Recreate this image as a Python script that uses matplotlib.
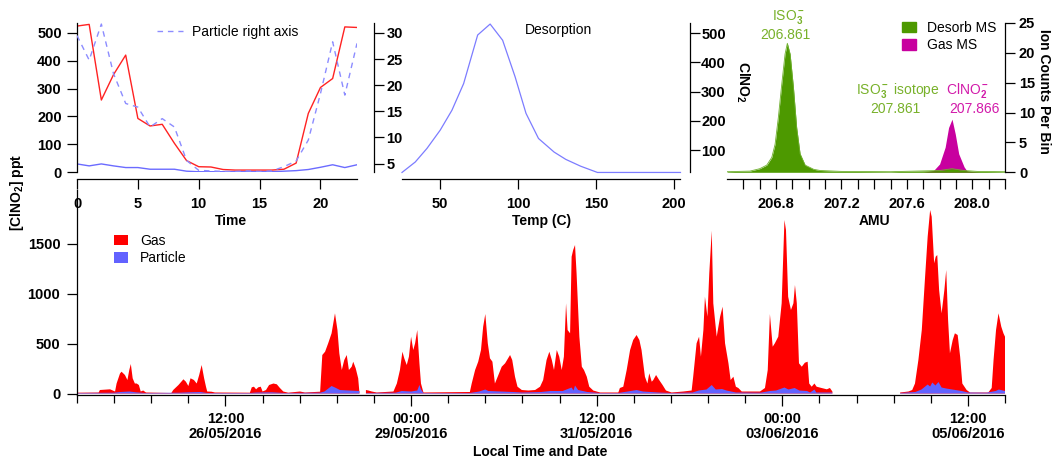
import numpy as np
import pandas as pd
import matplotlib
matplotlib.use("Agg")
import matplotlib.pyplot as plt
from matplotlib.patches import Patch
from matplotlib.lines import Line2D
from matplotlib.ticker import FormatStrFormatter
import matplotlib.dates as mdates

plt.rcParams['font.family'] = ['Liberation Sans', 'DejaVu Sans']
plt.rcParams['font.weight'] = 'bold'
plt.rcParams['font.size'] = 10.5
plt.rcParams['mathtext.fontset'] = 'custom'
plt.rcParams['mathtext.rm'] = 'Liberation Sans'
plt.rcParams['mathtext.it'] = 'Liberation Sans:italic'
plt.rcParams['mathtext.bf'] = 'Liberation Sans:bold'
plt.rcParams['axes.linewidth'] = 0.9

# ---- diurnal profile (top left)
hours = list(range(24))
gas_diurnal = [524, 530, 259, 350, 420, 193, 166, 172, 104, 42, 20, 19, 10, 8,
               8, 8, 8, 11, 33, 211, 304, 336, 521, 519]
part_diurnal = [30, 23, 30, 23, 17, 17, 11, 11, 11, 4, 2, 2, 2, 2, 2, 2, 2, 4,
                6, 10, 18, 27, 17, 27]
part_right = [29.5, 24.8, 31.7, 22.2, 16.5, 15.8, 12.0, 13.6, 12.0, 5.6, 3.7,
              3.6, 3.5, 3.5, 3.6, 3.5, 3.6, 4.4, 5.5, 9.5, 18.4, 28.3, 18.1, 28.0]

# ---- desorption (top middle)
temp_c = [25.5, 34, 41.5, 50, 57.5, 65, 74, 82, 90, 98, 105, 113, 123, 130.5,
          140, 150.8, 204]
desorb = [3.3, 5.3, 7.9, 11.4, 15.2, 20.3, 29.6, 31.7, 28.6, 21.6, 14.6, 9.8,
          7.2, 5.8, 4.5, 3.3, 3.3]

# ---- mass spectra (top right)
desorb_amu = [206.50, 206.64, 206.70, 206.743, 206.774, 206.794, 206.814,
              206.835, 206.855, 206.869, 206.886, 206.906, 206.926, 206.947,
              206.978, 207.03, 207.07, 207.2, 207.5, 207.8, 207.876, 207.95,
              208.03, 208.2]
desorb_cnt = [0.1, 0.2, 0.6, 1.2, 2.5, 4.7, 9.2, 14.8, 19.8, 21.6, 19.8, 14.3,
              7.5, 3.1, 1.2, 0.5, 0.3, 0.15, 0.1, 0.3, 0.6, 0.3, 0.15, 0.1]
gasms_amu = [206.5, 207.70, 207.763, 207.80, 207.834, 207.855, 207.876,
             207.896, 207.917, 207.95, 207.968, 208.05, 208.2]
gasms_cnt = [0, 0, 0.3, 1.4, 4.2, 7.5, 8.9, 6.4, 3.1, 0.9, 0.2, 0, 0]

# ---- time series (bottom), hours after 24/05/2016 12:00
t0 = pd.Timestamp('2016-05-24 12:00')
gas_hours = [0.0, 7.0, 7.4, 10.7, 12.3, 12.8, 13.9, 14.4, 15.5, 16.3, 16.9, 17.4,
             18.0, 18.7, 19.3, 20.0, 20.6, 21.4, 22.3, 30.5, 31.1, 32.8, 34.4,
             35.2, 36.0, 36.7, 37.8, 38.7, 39.5, 40.3, 41.1, 41.7, 42.1, 43.5,
             44.6, 55.9, 56.5, 57.2, 57.9, 58.6, 59.4, 60.0, 61.1, 62.1, 63.5,
             64.6, 65.6, 66.7, 68.3, 72.1, 73.7, 78.6, 79.3, 80.2, 81.2, 82.3,
             83.4, 84.2, 84.8, 85.6, 86.4, 87.2, 87.9, 88.8, 89.3, 90.1, 90.9,
             91.3, 92.3, 93.4, 94.2, 95.3, 96.9, 102.3, 103.4, 104.4, 105.2,
             105.8, 106.6, 107.3, 108.0, 108.7, 109.3, 110.0, 110.7, 111.2,
             112.0, 127.0, 127.6, 128.7, 129.7, 130.6, 131.3, 132.0, 132.8,
             133.5, 134.3, 135.1, 136.0, 137.3, 138.4, 140.0, 140.7, 141.6,
             142.4, 143.8, 145.9, 148.1, 149.7, 150.7, 151.8, 152.7, 153.5,
             154.2, 155.1, 155.9, 156.7, 157.4, 158.1, 158.6, 159.4, 159.9,
             160.4, 161.0, 161.5, 162.4, 163.2, 163.9, 164.8, 165.6, 166.9,
             169.1, 175.0, 175.5, 176.6, 177.7, 178.8, 179.8, 180.9, 181.8,
             182.5, 183.6, 184.4, 185.0, 185.8, 186.3, 187.2, 188.2, 189.3,
             190.4, 192.2, 196.0, 198.7, 199.2, 200.3, 201.1, 201.7, 202.5,
             203.0, 203.8, 204.4, 205.2, 205.7, 206.8, 207.9, 208.7, 209.5,
             210.6, 211.3, 212.2, 213.0, 213.8, 214.9, 220.8, 222.4, 223.3,
             224.0, 224.9, 225.6, 226.7, 227.8, 228.7, 229.2, 229.9, 230.8,
             231.6, 232.1, 232.7, 233.4, 234.3, 235.3, 236.2, 236.7, 237.5,
             238.4, 239.1, 240.7, 242.4, 243.4, 244.2, 255.0, 266.1, 268.8,
             270.0, 270.9, 272.0, 273.1, 274.1, 275.0, 275.8, 276.3, 277.1,
             277.6, 278.1, 278.7, 279.5, 280.4, 281.0, 281.6, 282.2, 283.1,
             283.8, 284.7, 285.5, 286.2, 287.6, 288.7, 294.6, 295.7, 296.3,
             297.1, 297.9, 298.8, 299.5, 300.0]
gas_ppt = [8, 10, 35, 42, 20, 100, 200, 218, 185, 135, 235, 295, 152, 100, 100,
           85, 20, 30, 10, 5, 35, 85, 142, 118, 75, 152, 135, 100, 185, 285, 152,
           68, 20, 18, 10, 8, 62, 68, 42, 62, 68, 20, 35, 85, 100, 92, 55, 20, 8,
           20, 10, 18, 385, 418, 502, 602, 802, 635, 402, 235, 335, 385, 235,
           268, 318, 252, 152, 10, np.nan, 35, 30, 20, 10, 20, 100, 235, 418,
           352, 285, 368, 568, 435, 502, 635, 302, 100, 10, 15, 100, 235, 318,
           435, 668, 795, 502, 352, 318, 100, 168, 268, 302, 385, 335, 168, 68,
           35, 30, 35, 68, 135, 335, 418, 335, 235, 435, 368, 235, 368, 902,
           635, 602, 1368, 1435, 1485, 1202, 568, 268, 235, 168, 68, 30, 10, 10,
           55, 68, 235, 435, 535, 585, 535, 435, 168, 100, 202, 118, 135, 185,
           135, 85, 30, 10, 20, 30, 168, 502, 568, 368, 635, 968, 768, 1202,
           1628, 902, 568, 768, 868, 502, 302, 135, 168, 68, 55, 20, 20, 55,
           235, 795, 468, 502, 568, 902, 1735, 1635, 968, 835, 902, 1085, 902,
           302, 268, 308, 318, 100, 68, 100, 68, 55, 42, 55, 20, np.nan, 10, 20,
           35, 100, 335, 635, 1135, 1568, 1835, 1768, 1302, 1368, 1385, 1035,
           802, 1035, 1235, 735, 402, 535, 602, 585, 368, 100, 35, 10, 10, 55,
           335, 635, 802, 668, 602, 568]
part_hours = [0, 12, 14, 17, 19, 22, 33, 36, 40, 42, 56, 58, 63, 67, 78.6, 80,
              82.3, 83.4, 85, 88, 91.3, 92.3, 93.4, 103, 105, 108, 110, 110.7,
              111.2, 112, 127, 130, 132, 133, 137, 141, 144, 150, 153, 157,
              159.9, 160.5, 161.0, 162, 165, 169, 175, 178, 180.9, 183, 188, 192,
              199, 201, 203.5, 205.2, 206.5, 208.5, 210, 213, 221, 224, 226,
              228.7, 230, 232, 233.5, 236, 237, 238.4, 239, 244.2, 255, 266.1,
              271, 273, 275, 275.8, 276.5, 277.5, 278.5, 279.5, 281, 283, 286,
              288, 294, 297, 298, 300]
part_ppt = [5, 8, 15, 20, 12, 5, 8, 12, 15, 5, 5, 10, 12, 5, 8, 20, 75, 60, 35,
            30, 25, np.nan, 5, 8, 25, 20, 30, 85, 40, 5, 5, 20, 40, 25, 20, 15,
            10, 15, 25, 25, 60, 30, 80, 35, 15, 5, 5, 20, 35, 20, 10, 5, 10, 30,
            40, 85, 40, 45, 30, 10, 8, 25, 30, 60, 40, 55, 30, 25, 10, 40, 10,
            10, np.nan, 5, 15, 40, 90, 70, 110, 80, 115, 60, 50, 40, 25, 10, 8,
            25, 40, 25]

W, H = 1055, 462
RED = '#ff0000'
BLUE = '#6262ff'
GREEN = '#4d9900'
MAGENTA = '#c8009f'


def box(x0, y0, x1, y1):
    return [x0 / W, 1 - y1 / H, (x1 - x0) / W, (y1 - y0) / H]


def ticks_out(ax, xpad=2, ypad=2):
    ax.tick_params(which='both', direction='out', length=7, width=0.9,
                   labelsize=10.5)
    ax.tick_params(axis='x', which='both', pad=xpad)
    ax.tick_params(axis='y', which='both', pad=ypad)
    ax.tick_params(which='minor', length=6)


fig = plt.figure(figsize=(W / 100, H / 100), dpi=100)

# ---------- top left: diurnal
ax1 = fig.add_axes(box(77, 23, 357, 172.3))
ax1.set_facecolor('none')
ax1.plot(hours, gas_diurnal, color='#ff2222', lw=1)
ax1.plot(hours, part_diurnal, color='#6b6bff', lw=1)
ax1.set_xlim(0, 23)
ax1.set_ylim(0, 535)
ax1.set_xticks([0, 5, 10, 15, 20])
ax1.set_yticks([0, 100, 200, 300, 400, 500])
for s in ['top', 'right']:
    ax1.spines[s].set_visible(False)
ax1.spines['bottom'].set_position(('axes', -7 / 149.3))
ticks_out(ax1, xpad=5.5, ypad=4)

ax1b = ax1.twinx()
ax1b.plot(hours, part_right, color='#8c8cff', lw=1, dashes=(4, 3.5))
ax1b.set_ylim(3.33, 31.9)
ax1b.set_yticks([5, 10, 15, 20, 25, 30])
for s in ['top', 'left', 'bottom']:
    ax1b.spines[s].set_visible(False)
ax1b.spines['right'].set_position(('axes', 1 + 17 / 280))
ticks_out(ax1b)
ax1.tick_params(right=False)
ax1b.legend([Line2D([], [], color='#8c8cff', lw=1, dashes=(4, 3.5))],
            ['Particle right axis'], loc='upper left', frameon=False,
            bbox_to_anchor=(150 / W, 1 - 18 / H), bbox_transform=fig.transFigure,
            handlelength=1.9, borderpad=0, handletextpad=0.6,
            prop={'size': 10, 'weight': 'normal'})

# ---------- top middle: desorption
ax2 = fig.add_axes(box(402, 23, 680, 172.3))
ax2.set_facecolor('none')
ax2.plot(temp_c, desorb, color='#7c7cff', lw=0.9, clip_on=False)
ax2.set_xlim(25.5, 203.7)
ax2.set_ylim(3.33, 31.9)
ax2.set_xticks([50, 100, 150, 200])
for s in ['top', 'left', 'right']:
    ax2.spines[s].set_visible(False)
ax2.spines['bottom'].set_position(('axes', -7 / 149.3))
ticks_out(ax2, xpad=5.5)

ax2r = ax2.twinx()
ax2r.set_ylim(24, 535)
ax2r.set_yticks([100, 200, 300, 400, 500])
for s in ['top', 'left', 'bottom']:
    ax2r.spines[s].set_visible(False)
ax2r.spines['right'].set_position(('axes', 1 + 10 / 278))
ticks_out(ax2r, ypad=1)
ax2.tick_params(left=False, labelleft=False, right=False, labelright=False)

# ---------- top right: mass spectra
ax3 = fig.add_axes(box(727, 23, 1005, 172.3))
ax3.set_facecolor('none')
ax3.fill_between(gasms_amu, 0, gasms_cnt, color=MAGENTA, lw=0)
ax3.fill_between(desorb_amu, 0, desorb_cnt, color=GREEN, lw=0)
ax3.plot(desorb_amu, desorb_cnt, color='#6fb02f', lw=0.6)
ax3.set_xlim(206.5, 208.2)
ax3.set_ylim(0, 25)
ax3.set_xticks([206.8, 207.2, 207.6, 208.0])
ax3.set_xticks(np.round(np.arange(206.6, 208.21, 0.1), 1), minor=True)
ax3.xaxis.set_major_formatter(FormatStrFormatter('%.1f'))
ax3.yaxis.tick_right()
ax3.set_yticks([0, 5, 10, 15, 20, 25])
for s in ['top', 'left']:
    ax3.spines[s].set_visible(False)
ax3.spines['bottom'].set_position(('axes', -7 / 149.3))
ticks_out(ax3, xpad=5.5, ypad=3)
ax3.tick_params(which='minor', length=7)
ax3.legend([Patch(color=GREEN), Patch(color=MAGENTA)], ['Desorb MS', 'Gas MS'],
           loc='upper left', frameon=False, bbox_to_anchor=(895 / W, 1 - 14 / H),
           bbox_transform=fig.transFigure, handlelength=1.0, handleheight=0.75,
           handletextpad=0.8, labelspacing=0.25, borderpad=0,
           prop={'size': 10, 'weight': 'normal'})

# ---------- bottom: time series
ax4 = fig.add_axes(box(77, 190, 1005, 395))
ax4.set_facecolor('none')
gas_t = t0 + pd.to_timedelta(gas_hours, unit='h')
part_t = t0 + pd.to_timedelta(part_hours, unit='h')
ax4.fill_between(gas_t, 0, gas_ppt, color=RED, lw=0, label='Gas')
ax4.fill_between(part_t, 0, part_ppt, color=BLUE, lw=0, label='Particle')
ax4.set_xlim(t0, t0 + pd.Timedelta(hours=300))
ax4.set_ylim(-15, 2035)
ax4.set_yticks([0, 500, 1000, 1500])
ax4.set_xticks(pd.date_range('2016-05-26 12:00', periods=5, freq='60h'))
ax4.set_xticks(pd.date_range(t0, periods=26, freq='12h'), minor=True)
ax4.xaxis.set_major_formatter(mdates.DateFormatter('%H:%M\n%d/%m/%Y'))
for s in ['top', 'right']:
    ax4.spines[s].set_visible(False)
ticks_out(ax4, xpad=4.5, ypad=5)
ax4.tick_params(axis='x', which='major', length=8)
for lbl in ax4.get_xticklabels():
    lbl.set_linespacing(1.1)
ax4.legend(loc='upper left', frameon=False, bbox_to_anchor=(107 / W, 1 - 227 / H),
           bbox_transform=fig.transFigure, handlelength=1.0, handleheight=0.75,
           handletextpad=0.9, labelspacing=0.25, borderpad=0,
           prop={'size': 10, 'weight': 'normal'})


def ftext(x, y, s, **kw):
    fig.text(x / W, 1 - y / H, s, ha='center', va='center', **kw)


ftext(231, 221, 'Time', fontsize=10)
ftext(542, 221, 'Temp (C)', fontsize=10)
ftext(874, 221, 'AMU', fontsize=10)
ftext(540, 452, 'Local Time and Date', fontsize=10)
ftext(17, 192, r'[ClNO$_\mathbf{2}$] ppt', fontsize=10, rotation=90)
ftext(743, 82, r'ClNO$_\mathbf{2}$', fontsize=10, rotation=270)
ftext(1044, 91, 'Ion Counts Per Bin', fontsize=10, rotation=270)
ftext(559, 30, 'Desorption', fontsize=10, fontweight='normal')

TG = '#78b12a'
TM = '#d21aaa'
ftext(789, 17, r'ISO$_3^-$', fontsize=10, fontweight='normal', color=TG)
ftext(785, 35, '206.861', fontsize=10, fontweight='normal', color=TG)
ftext(898, 90, r'ISO$_3^-$ isotope', fontsize=10, fontweight='normal', color=TG)
ftext(895, 109, '207.861', fontsize=10, fontweight='normal', color=TG)
ftext(968, 90, r'ClNO$_2^-$', fontsize=10, fontweight='normal', color=TM)
ftext(974, 109, '207.866', fontsize=10, fontweight='normal', color=TM)

fig.savefig('out.png', dpi=100)
